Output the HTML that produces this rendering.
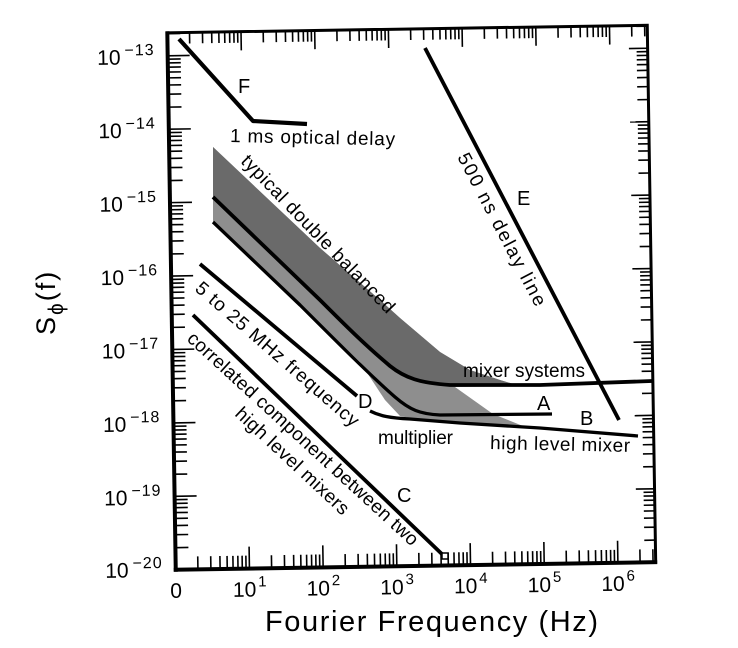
<!DOCTYPE html>
<html>
<head>
<meta charset="utf-8">
<style>
html,body{margin:0;padding:0;background:#fff;}
svg{display:block;}
</style>
</head>
<body>
<svg width="738" height="648" viewBox="0 0 738 648" xmlns="http://www.w3.org/2000/svg" font-family="'Liberation Sans','DejaVu Sans',sans-serif">
<defs>
  <g id="yt" stroke="#000" stroke-width="1.6">
    <line x1="0" y1="0" x2="22" y2="0"/>
    <line x1="0" y1="-22.10" x2="13" y2="-22.10"/>
    <line x1="0" y1="-35.04" x2="13" y2="-35.04"/>
    <line x1="0" y1="-44.21" x2="13" y2="-44.21"/>
    <line x1="0" y1="-51.33" x2="13" y2="-51.33"/>
    <line x1="0" y1="-57.14" x2="13" y2="-57.14"/>
    <line x1="0" y1="-62.06" x2="13" y2="-62.06"/>
    <line x1="0" y1="-66.31" x2="13" y2="-66.31"/>
    <line x1="0" y1="-70.07" x2="13" y2="-70.07"/>
  </g>
  <g id="xt" stroke="#000" stroke-width="1.6">
    <line x1="0" y1="0" x2="0" y2="-22"/>
    <line x1="22.19" y1="0" x2="22.19" y2="-13"/>
    <line x1="35.16" y1="0" x2="35.16" y2="-13"/>
    <line x1="44.37" y1="0" x2="44.37" y2="-13"/>
    <line x1="51.51" y1="0" x2="51.51" y2="-13"/>
    <line x1="57.35" y1="0" x2="57.35" y2="-13"/>
    <line x1="62.28" y1="0" x2="62.28" y2="-13"/>
    <line x1="66.56" y1="0" x2="66.56" y2="-13"/>
    <line x1="70.33" y1="0" x2="70.33" y2="-13"/>
  </g>
  <clipPath id="fc"><rect x="171.5" y="29" width="480" height="537"/></clipPath>
</defs>

<!-- Frame, ticks and tick labels (slightly rotated like the scan) -->
<g transform="rotate(-0.9 411.5 297.5)">
  <g clip-path="url(#fc)">
    <use href="#yt" transform="translate(171.5,566)"/>
    <use href="#yt" transform="translate(171.5,492.57)"/>
    <use href="#yt" transform="translate(171.5,419.14)"/>
    <use href="#yt" transform="translate(171.5,345.71)"/>
    <use href="#yt" transform="translate(171.5,272.28)"/>
    <use href="#yt" transform="translate(171.5,198.85)"/>
    <use href="#yt" transform="translate(171.5,125.42)"/>
    <use href="#yt" transform="translate(171.5,51.99)"/>
    <use href="#yt" transform="translate(651.5,566) scale(-0.85,1)"/>
    <use href="#yt" transform="translate(651.5,492.57) scale(-0.85,1)"/>
    <use href="#yt" transform="translate(651.5,419.14) scale(-0.85,1)"/>
    <use href="#yt" transform="translate(651.5,345.71) scale(-0.85,1)"/>
    <use href="#yt" transform="translate(651.5,272.28) scale(-0.85,1)"/>
    <use href="#yt" transform="translate(651.5,198.85) scale(-0.85,1)"/>
    <use href="#yt" transform="translate(651.5,125.42) scale(-0.85,1)"/>
    <use href="#yt" transform="translate(651.5,51.99) scale(-0.85,1)"/>
    <use href="#xt" transform="translate(171.5,566)"/>
    <use href="#xt" transform="translate(245.2,566)"/>
    <use href="#xt" transform="translate(318.9,566)"/>
    <use href="#xt" transform="translate(392.6,566)"/>
    <use href="#xt" transform="translate(466.3,566)"/>
    <use href="#xt" transform="translate(540.0,566)"/>
    <use href="#xt" transform="translate(613.7,566)"/>
    <use href="#xt" transform="translate(171.5,29) scale(1,-0.85)"/>
    <use href="#xt" transform="translate(245.2,29) scale(1,-0.85)"/>
    <use href="#xt" transform="translate(318.9,29) scale(1,-0.85)"/>
    <use href="#xt" transform="translate(392.6,29) scale(1,-0.85)"/>
    <use href="#xt" transform="translate(466.3,29) scale(1,-0.85)"/>
    <use href="#xt" transform="translate(540.0,29) scale(1,-0.85)"/>
    <use href="#xt" transform="translate(613.7,29) scale(1,-0.85)"/>
  </g>
  <rect x="171.5" y="29" width="480" height="537" fill="none" stroke="#000" stroke-width="3"/>
  <line x1="171.5" y1="27.5" x2="171.5" y2="568" stroke="#000" stroke-width="4"/>
  <line x1="169.5" y1="566" x2="653" y2="566" stroke="#000" stroke-width="4"/>

  <!-- y tick labels -->
  <g font-size="21" fill="#000">
    <text x="101" y="60">10<tspan dx="4" dy="-9" font-size="16" letter-spacing="1">−13</tspan></text>
    <text x="101" y="133.4">10<tspan dx="4" dy="-9" font-size="16" letter-spacing="1">−14</tspan></text>
    <text x="101" y="206.9">10<tspan dx="4" dy="-9" font-size="16" letter-spacing="1">−15</tspan></text>
    <text x="101" y="280.3">10<tspan dx="4" dy="-9" font-size="16" letter-spacing="1">−16</tspan></text>
    <text x="101" y="353.7">10<tspan dx="4" dy="-9" font-size="16" letter-spacing="1">−17</tspan></text>
    <text x="101" y="427.1">10<tspan dx="4" dy="-9" font-size="16" letter-spacing="1">−18</tspan></text>
    <text x="101" y="500.6">10<tspan dx="4" dy="-9" font-size="16" letter-spacing="1">−19</tspan></text>
    <text x="101" y="573">10<tspan dx="4" dy="-9" font-size="16" letter-spacing="1">−20</tspan></text>
  </g>
  <!-- x tick labels -->
  <g font-size="21" fill="#000" text-anchor="middle">
    <text x="171.5" y="594">0</text>
    <text x="245.2" y="594">10<tspan dx="2" dy="-10" font-size="15">1</tspan></text>
    <text x="318.9" y="594">10<tspan dx="2" dy="-10" font-size="15">2</tspan></text>
    <text x="392.6" y="594">10<tspan dx="2" dy="-10" font-size="15">3</tspan></text>
    <text x="466.3" y="594">10<tspan dx="2" dy="-10" font-size="15">4</tspan></text>
    <text x="540.0" y="594">10<tspan dx="2" dy="-10" font-size="15">5</tspan></text>
    <text x="613.7" y="594">10<tspan dx="2" dy="-10" font-size="15">6</tspan></text>
  </g>
</g>

<!-- shaded band -->
<path d="M213,147 L320,248 L380,300 L400,318 L440,352 L470,370 L500,380 L520,386 L455,387 L493,414 L528,428 L460,424 L420,420 L400,416 L385,400 L360,362 L300,305 L213,222 Z" fill="#8e8e8e"/>
<path d="M213,147 L320,248 L380,300 L400,318 L440,352 L470,370 L500,380 L520,386 L450,385 L420,383 L393,370 L367,347 L320,300 L213,197 Z" fill="#6a6a6a"/>

<!-- curves -->
<g fill="none" stroke="#000" stroke-linejoin="round">
  <polyline points="179,39 253,121 307,124" stroke-width="4.2"/>
  <line x1="425" y1="48" x2="619" y2="420" stroke-width="3.8"/>
  <line x1="200" y1="264" x2="357" y2="396" stroke-width="3.8"/>
  <line x1="193" y1="315" x2="445" y2="557" stroke-width="3.8"/>
  <path d="M213,197 L320,300 C345,325 365,345 390,366 C405,378 420,383 450,385 L540,385 L652,381" stroke-width="3.8"/>
  <path d="M213,222 L300,305 C340,345 370,375 395,397 C410,410 420,414 440,415 L552,414" stroke-width="3.3"/>
  <path d="M370,411 C380,416 390,418 410,419 L460,423 L540,428 L638,436" stroke-width="3.3"/>
</g>
<rect x="442" y="553" width="6" height="6" fill="#fff" stroke="#000" stroke-width="1.5"/>

<!-- in-plot labels -->
<g fill="#000" font-size="19">
  <text x="238" y="93" font-size="20">F</text>
  <text x="230" y="142" textLength="165" lengthAdjust="spacing" transform="rotate(1.2 230 142)">1 ms optical delay</text>
  <text x="517" y="205" font-size="20">E</text>
  <text x="537" y="410" font-size="20">A</text>
  <text x="580" y="425" font-size="20">B</text>
  <text x="358" y="408" font-size="20">D</text>
  <text x="397" y="502" font-size="20">C</text>
  <text x="463" y="377" textLength="122" lengthAdjust="spacing">mixer systems</text>
  <text x="490" y="449" textLength="140" lengthAdjust="spacing" transform="rotate(1.2 490 449)">high level mixer</text>
  <text x="378" y="444" textLength="75" lengthAdjust="spacing">multiplier</text>
  <text transform="translate(240,162) rotate(46)" textLength="212" lengthAdjust="spacing">typical double balanced</text>
  <text transform="translate(457,157) rotate(62.4)" textLength="170" lengthAdjust="spacing">500 ns delay line</text>
  <text transform="translate(194,290) rotate(41)" textLength="210" lengthAdjust="spacing">5 to 25 MHz frequency</text>
  <text transform="translate(186,340) rotate(42.5)" textLength="306" lengthAdjust="spacing">correlated component between two</text>
  <text transform="translate(234,415) rotate(43)" textLength="148" lengthAdjust="spacing">high level mixers</text>
</g>

<!-- axis titles -->
<text x="265" y="631" font-size="29" textLength="333" lengthAdjust="spacing" fill="#000">Fourier Frequency (Hz)</text>
<text transform="translate(55,335) rotate(-90)" font-size="27" fill="#000" letter-spacing="2">S<tspan dy="8" font-size="21">ϕ</tspan><tspan dy="-8">(f)</tspan></text>
</svg>
</body>
</html>
